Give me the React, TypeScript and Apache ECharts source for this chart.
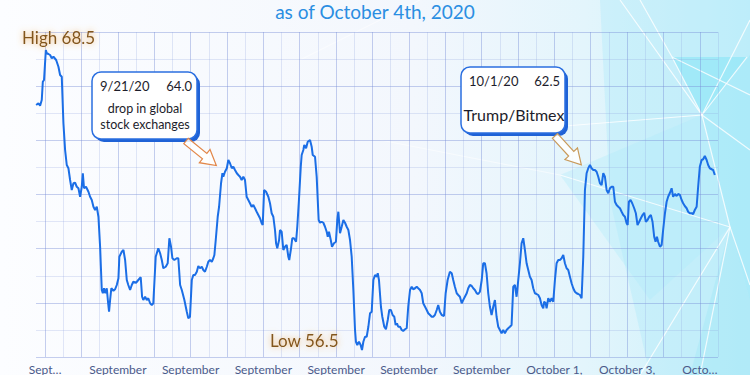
import React, { useEffect, useRef } from "react";
import * as echarts from "echarts";

// ---- texts ----
const titleText = "as of October 4th, 2020";
const highLabel = "High 68.5";
const lowLabel = "Low 56.5";
const tickLabels = ["Sept…", "September", "September", "September", "September", "September", "September", "October 1,", "October 3,", "Octo…"];
const note1 = { date: "9/21/20", value: "64.0", lines: ["drop in global", "stock exchanges"] };
const note2 = { date: "10/1/20", value: "62.5", lines: ["Trump/Bitmex"] };

// ---- data: [hours since Sep 17 00:00, index value] ----
const sep16to19 = [
  [-5.9, 66.3], [-4.4, 66.37], [-3.3, 66.27], [-2.2, 66.5], [-1.5, 67.23], [-0.7, 67.3], [0.5, 68.5], [1.1, 68.37], [2.2, 68.34], [3.3, 68.3],
  [4.4, 68.17], [5.5, 68.23], [7.3, 68.1], [8.8, 67.83], [9.9, 67.5], [11.0, 67.43], [12.1, 65.57], [13.2, 64.5], [14.3, 63.9], [15.4, 63.77],
  [16.5, 63.3], [17.6, 62.9], [18.7, 63.17], [19.8, 63.19], [20.9, 63.03], [22.0, 62.97], [23.1, 62.63], [24.2, 63.03], [24.9, 63.57], [25.7, 62.97],
  [27.0, 63.03], [28.6, 62.83], [29.7, 62.63], [30.8, 62.5], [31.9, 62.23], [33.0, 62.1], [34.1, 62.23], [35.2, 61.83], [36.3, 60.63], [37.4, 58.9],
  [38.1, 58.77], [38.9, 58.97], [39.8, 58.77], [40.7, 58.97], [41.6, 58.37], [42.2, 58.03], [42.9, 58.5], [43.7, 58.97], [45.1, 58.87], [46.2, 58.93],
  [47.3, 59.1], [48.4, 59.37], [49.0, 60.23], [50.6, 60.43], [51.7, 60.5], [52.8, 60.1], [53.9, 59.3], [54.9, 59.1], [56.1, 58.9], [57.2, 59.1],
  [58.2, 59.23], [60.0, 59.19], [61.5, 59.3], [63.1, 59.41], [64.0, 58.63], [64.8, 58.5], [66.0, 58.63], [67.1, 58.5], [68.1, 58.57], [69.3, 58.37],
  [70.4, 58.3], [71.4, 58.37],
];
const sep20to22 = [
  [73.0, 60.23], [74.7, 60.57], [75.9, 60.37], [77.0, 60.1], [78.0, 59.77], [79.6, 59.83], [80.9, 59.97], [82.0, 60.97], [83.1, 60.63], [84.0, 60.17],
  [85.3, 60.1], [86.9, 60.17], [87.9, 60.17], [89.1, 59.1], [90.2, 58.9], [91.9, 58.5], [93.5, 58.03], [94.5, 57.77], [95.6, 57.83], [96.8, 59.3],
  [97.8, 59.5], [98.9, 59.5], [100.1, 59.63], [101.1, 59.86], [102.2, 59.77], [103.4, 59.83], [104.4, 59.7], [105.5, 59.63], [106.7, 59.83], [107.7, 60.03],
  [108.8, 60.1], [110.0, 60.03], [111.0, 60.17], [111.7, 60.3], [112.6, 60.9], [113.9, 61.83], [114.8, 62.23], [116.1, 63.17], [117.0, 63.57], [117.6, 63.43],
  [118.7, 63.63], [119.9, 63.77], [120.9, 64.1], [122.0, 63.97], [123.2, 63.77], [124.2, 63.83], [125.3, 63.7], [126.5, 63.57], [127.5, 63.5], [128.6, 63.43],
  [129.7, 63.3], [130.8, 63.43], [131.9, 63.3], [133.0, 62.63], [134.1, 62.5], [135.2, 62.37], [136.3, 62.23], [137.4, 62.3], [138.5, 62.17], [139.6, 62.03],
  [140.7, 61.9], [141.8, 61.77], [142.9, 61.57], [143.6, 61.5],
];
const sep23to25 = [
  [144.5, 62.9], [145.8, 62.83], [147.3, 62.63], [148.4, 62.37], [149.5, 61.97], [150.6, 61.83], [151.7, 61.3], [152.4, 60.77], [153.2, 60.57], [154.4, 60.9],
  [155.0, 61.3], [156.1, 61.23], [157.2, 60.5], [158.3, 60.63], [159.4, 60.7], [160.5, 60.23], [161.1, 60.1], [162.3, 60.57], [163.1, 60.97], [164.2, 60.97],
  [165.6, 60.83], [166.4, 61.43], [167.5, 62.5], [168.7, 63.83], [169.3, 64.3], [170.4, 64.5], [171.0, 64.7], [172.2, 64.57], [173.3, 64.83], [174.8, 64.9],
  [175.9, 64.63], [176.6, 64.3], [178.1, 64.23], [179.2, 63.43], [179.9, 62.5], [180.5, 61.7], [181.4, 61.59], [182.5, 61.63], [183.6, 61.59], [184.7, 61.43],
  [185.8, 61.23], [186.5, 61.03], [187.3, 61.23], [188.5, 60.9], [189.3, 60.63], [190.6, 60.77], [191.9, 60.83], [192.8, 61.7], [193.5, 62.03], [194.6, 61.17],
  [195.7, 61.43], [196.8, 61.7], [197.9, 61.59], [199.0, 61.43], [200.1, 61.3], [201.2, 60.9], [202.3, 60.23], [203.4, 58.9], [204.5, 57.3], [205.1, 56.83],
  [206.0, 56.7], [207.1, 56.83], [208.2, 56.7], [209.1, 56.5], [210.0, 56.83], [211.1, 57.03], [212.2, 57.03], [213.3, 57.43], [214.4, 57.97], [215.5, 58.03],
];
const sep26to28 = [
  [216.6, 59.3], [217.7, 59.5], [218.8, 59.43], [219.5, 59.57], [220.3, 59.3], [221.6, 58.23], [222.5, 57.83], [223.8, 57.43], [224.9, 57.33], [226.1, 57.7],
  [227.1, 58.1], [228.2, 58.1], [229.3, 57.9], [230.4, 57.83], [231.3, 57.5], [232.2, 57.57], [233.0, 57.43], [234.2, 57.43], [235.3, 57.3], [236.3, 57.26],
  [237.5, 57.33], [238.6, 57.37], [239.6, 58.23], [240.8, 58.9], [241.9, 59.03], [242.9, 58.93], [244.1, 58.97], [245.2, 59.03], [246.2, 58.97], [247.4, 58.9],
  [248.5, 58.77], [249.5, 58.37], [250.7, 58.23], [251.8, 58.1], [252.8, 57.97], [254.0, 57.9], [255.1, 57.83], [256.1, 57.83], [257.2, 57.9], [258.4, 58.1],
  [259.4, 58.3], [260.5, 58.03], [261.7, 57.9], [263.2, 57.86], [264.3, 58.77], [265.6, 59.3], [267.1, 59.63], [268.3, 59.57], [269.3, 59.3], [270.4, 59.03],
  [271.6, 58.77], [272.6, 58.7], [273.7, 58.63], [274.9, 58.37], [275.9, 58.5], [277.0, 58.63], [278.2, 58.77], [279.2, 58.97], [280.3, 59.1], [281.5, 59.06],
  [282.5, 58.97], [283.6, 58.9], [284.8, 58.77], [285.8, 58.74], [286.9, 58.83],
];
const sep29toOct1 = [
  [288.1, 59.3], [289.1, 59.97], [290.2, 59.97], [291.3, 59.57], [292.4, 58.77], [293.5, 58.23], [294.6, 57.9], [295.7, 58.23], [296.8, 58.5], [297.9, 57.83],
  [299.0, 57.43], [300.1, 57.3], [301.2, 57.17], [302.3, 57.3], [303.4, 57.17], [304.5, 57.3], [305.6, 57.37], [306.7, 57.43], [307.8, 57.5], [308.9, 59.03],
  [310.0, 59.1], [311.1, 58.63], [312.2, 59.3], [313.3, 59.97], [314.4, 60.77], [315.5, 60.97], [316.6, 60.5], [317.7, 59.97], [318.8, 59.7], [319.9, 59.43],
  [321.0, 59.3], [322.1, 58.97], [323.2, 58.77], [324.3, 58.74], [325.4, 58.7], [326.5, 58.57], [327.6, 58.3], [328.7, 58.17], [329.3, 58.43], [330.3, 58.37],
  [330.9, 58.17], [332.0, 58.57], [333.1, 58.43], [334.2, 58.57], [335.3, 58.43], [336.4, 59.3], [337.5, 59.97], [338.6, 60.1], [339.7, 60.1], [340.8, 60.17],
  [341.9, 60.3], [343.0, 59.97], [344.1, 59.77], [345.2, 59.7], [346.3, 59.43], [347.4, 59.17], [348.5, 58.97], [349.6, 58.83], [350.7, 58.77], [351.8, 58.74],
  [352.9, 58.7], [354.0, 58.57], [355.1, 60.23], [356.2, 62.9], [357.3, 63.57], [358.4, 63.77], [359.5, 63.9],
];
const oct2to5 = [
  [360.6, 63.77], [361.7, 63.7], [362.8, 63.7], [363.9, 63.63], [365.0, 63.43], [366.1, 63.17], [367.2, 63.1], [368.3, 63.57], [369.4, 63.43], [370.5, 62.9],
  [371.6, 62.77], [372.7, 62.97], [373.8, 63.03], [374.9, 63.03], [376.0, 62.43], [377.1, 62.3], [378.2, 62.23], [379.3, 62.17], [380.4, 62.03], [381.5, 61.9],
  [382.6, 61.83], [383.7, 61.57], [384.4, 61.5], [385.2, 62.43], [386.3, 62.5], [387.4, 62.37], [388.7, 62.17], [389.8, 61.97], [390.9, 61.5], [392.0, 61.63],
  [393.1, 61.77], [394.2, 61.9], [395.3, 61.99], [396.4, 61.63], [397.5, 61.7], [398.6, 61.83], [399.7, 61.9], [400.8, 61.63], [401.9, 61.03], [402.8, 60.83],
  [403.7, 61.03], [404.5, 60.83], [405.7, 60.63], [406.8, 60.7], [407.8, 61.3], [409.0, 61.97], [410.1, 62.43], [411.1, 62.63], [412.3, 62.79], [413.4, 62.97],
  [414.4, 62.63], [415.6, 62.74], [416.7, 62.66], [417.7, 62.74], [418.9, 62.7], [420.0, 62.5], [421.0, 62.37], [422.1, 62.26], [423.3, 62.17], [424.3, 62.03],
  [425.4, 61.97], [426.6, 61.97], [427.6, 61.94], [428.7, 62.1], [429.9, 62.23], [430.9, 63.03], [432.0, 63.83], [433.2, 64.1], [434.2, 64.13], [435.3, 64.26],
  [436.5, 64.1], [437.5, 63.9], [438.6, 63.77], [439.8, 63.73], [440.8, 63.7], [441.9, 63.5],
];

// ---- axis ranges ----
const X_MIN = -6; // hours from Sep 17 00:00
const X_MAX = 444;
const SLOT = 6;
const Y_MIN = 56.22;
const Y_MAX = 69.22;

const FONT = "Lato, 'Open Sans', sans-serif";
const MAJOR = "rgba(120,140,215,0.42)";
const MINOR = "rgba(140,158,222,0.24)";

function buildOption() {
  const slots: string[] = [];
  for (let h = X_MIN; h <= X_MAX; h += SLOT) slots.push(String(h));
  const hourAt = (i: number) => X_MIN + i * SLOT;
  const series = [...sep16to19, ...sep20to22, ...sep23to25, ...sep26to28, ...sep29toOct1, ...oct2to5];

  const txt = (text: string, x: number, y: number, size: number, align: string, fill = "#1d1d2b", extra: any = {}) => ({
    type: "text",
    x,
    y,
    z: 50,
    silent: true,
    style: { text, fill, fontSize: size, fontFamily: FONT, textAlign: align, textVerticalAlign: "middle", ...extra },
  });
  const box = (x: number, y: number, w: number, h: number) => [
    { type: "rect", z: 40, silent: true, shape: { x: x + 3, y: y + 3, width: w, height: h, r: 9 }, style: { fill: "#1f62d6" } },
    { type: "rect", z: 41, silent: true, shape: { x, y, width: w, height: h, r: 9 }, style: { fill: "#ffffff", stroke: "#2b6fe0", lineWidth: 1.5 } },
  ];
  const arrow = (x: number, y: number, rot: number, stroke: string) => ({
    type: "polygon",
    x,
    y,
    rotation: rot,
    z: 45,
    silent: true,
    shape: { points: [[0, -3.5], [24, -3.5], [24, -8.5], [39, 0], [24, 8.5], [24, 3.5], [0, 3.5]] },
    style: { fill: "rgba(255,255,255,0.85)", stroke, lineWidth: 1.2 },
  });
  const white = (pts: number[][], o = 0.8) => ({
    type: "polyline", z: -80, silent: true, shape: { points: pts }, style: { stroke: `rgba(255,255,255,${o})`, lineWidth: 1.2, fill: null },
  });
  const poly = (pts: number[][], fill: string) => ({ type: "polygon", z: -90, silent: true, shape: { points: pts }, style: { fill } });

  const graphic = [
    {
      type: "rect", z: -100, silent: true, shape: { x: 0, y: 0, width: 750, height: 375 },
      style: {
        fill: new echarts.graphic.LinearGradient(0, 0, 1, 0, [
          { offset: 0, color: "#fcfdff" },
          { offset: 0.55, color: "#f3f7fd" },
          { offset: 0.78, color: "#e3f5fc" },
          { offset: 1, color: "#c8f0fa" },
        ]),
      },
    },
    poly([[600, 0], [750, 0], [750, 375], [650, 375], [610, 200]], "rgba(170,232,248,0.35)"),
    poly([[672, 57], [747, 57], [702, 115]], "rgba(120,226,246,0.45)"),
    poly([[702, 115], [750, 55], [750, 300], [730, 227]], "rgba(140,228,246,0.35)"),
    poly([[560, 175], [702, 115], [730, 227], [650, 300]], "rgba(175,234,248,0.35)"),
    poly([[730, 227], [750, 300], [750, 375], [690, 375]], "rgba(150,228,246,0.3)"),
    white([[640, 0], [672, 57], [702, 115], [730, 227], [750, 285]]),
    white([[672, 57], [750, 95]]),
    white([[747, 57], [702, 115], [540, 128]]),
    white([[620, 0], [702, 115], [750, 150]]),
    white([[560, 175], [730, 227], [640, 375]]),
    white([[730, 227], [700, 375]]),
    white([[702, 115], [750, 20]]),
    white([[300, 60], [420, 0]], 0.5),
    white([[380, 140], [560, 175]], 0.5),
    txt(titleText, 375, 11, 19, "center", "#2a8ee2"),
    txt(highLabel, 22, 37, 17, "left", "#82561f", { textShadowColor: "rgba(240,165,70,0.85)", textShadowBlur: 6 }),
    txt(lowLabel, 270, 340, 17, "left", "#82561f", { textShadowColor: "rgba(240,165,70,0.85)", textShadowBlur: 6 }),
    ...box(92, 72, 105, 67),
    txt(note1.date, 100, 86, 13, "left"),
    txt(note1.value, 192, 86, 13, "right"),
    txt(note1.lines[0], 145, 108.5, 12.5, "center"),
    txt(note1.lines[1], 145, 124, 12.5, "center"),
    arrow(186, 141, -0.68, "#e2874a"),
    ...box(461, 67, 104, 66),
    txt(note2.date, 469, 81, 13, "left"),
    txt(note2.value, 560, 81, 13, "right"),
    txt(note2.lines[0], 514, 114, 16, "center"),
    arrow(555, 136, -0.83, "#c99a5a"),
  ];

  return {
    animation: false,
    grid: { left: 36, right: 32, top: 32, bottom: 18, containLabel: false },
    xAxis: [
      { type: "value", min: X_MIN, max: X_MAX, show: false },
      {
        type: "category",
        data: slots,
        boundaryGap: false,
        position: "bottom",
        axisLine: { show: false },
        axisTick: { show: false },
        axisLabel: {
          interval: (i: number) => hourAt(i) % 48 === 0,
          formatter: (_v: string, i: number) => tickLabels[hourAt(i) / 48] ?? "",
          color: "#4b5a8a",
          fontSize: 12,
          fontFamily: FONT,
          margin: 6,
          hideOverlap: false,
        },
        splitLine: {
          show: true,
          interval: (i: number) => hourAt(i) % 12 === 0,
          lineStyle: { color: [MAJOR, MINOR], width: 1 },
        },
      },
    ],
    yAxis: [
      { type: "value", min: Y_MIN, max: Y_MAX, show: false },
      {
        type: "value",
        min: 0,
        max: 12,
        interval: 2,
        position: "left",
        axisLine: { show: false },
        axisTick: { show: false },
        axisLabel: { show: false },
        splitLine: { show: true, lineStyle: { color: MAJOR, width: 1 } },
        minorTick: { show: false, splitNumber: 2 },
        minorSplitLine: { show: true, lineStyle: { color: MINOR, width: 1 } },
      },
    ],
    series: [
      {
        type: "line",
        xAxisIndex: 0,
        yAxisIndex: 0,
        data: series,
        symbol: "none",
        showSymbol: false,
        z: 10,
        lineStyle: { color: "#1b6ee6", width: 2 },
      },
    ],
    graphic,
  };
}

export default function App() {
  const ref = useRef<HTMLDivElement>(null);
  useEffect(() => {
    if (!ref.current) return;
    const chart = echarts.init(ref.current, undefined, { renderer: "svg" });
    chart.setOption(buildOption() as any);
    return () => chart.dispose();
  }, []);
  return <div ref={ref} style={{ position: "absolute", left: 0, top: 0, width: 750, height: 375 }} />;
}
